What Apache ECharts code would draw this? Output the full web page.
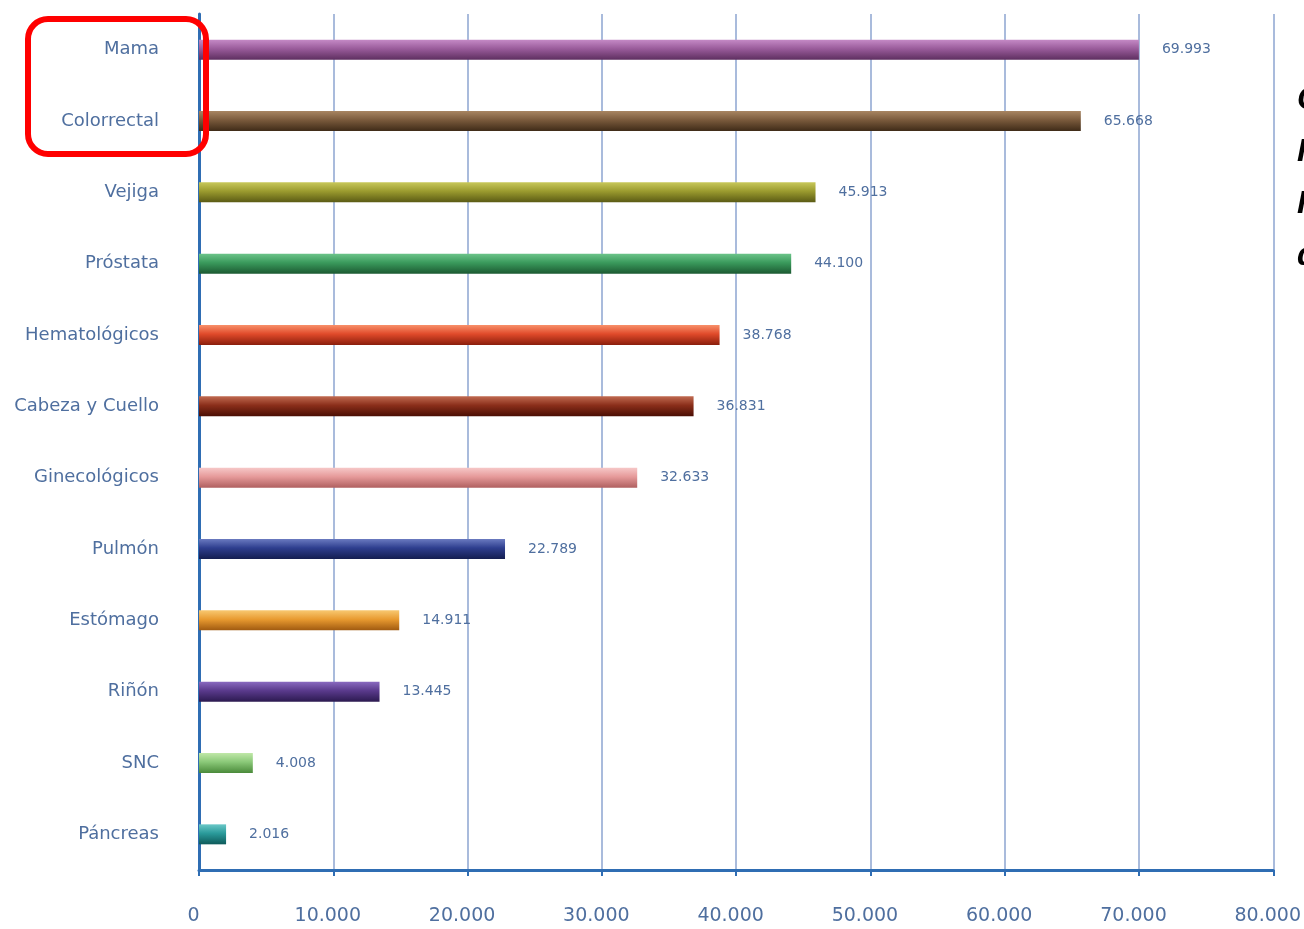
<!DOCTYPE html>
<html><head><meta charset="utf-8">
<script src="https://cdn.jsdelivr.net/npm/echarts@6/dist/echarts.min.js"></script>
<style>html,body{margin:0;padding:0;background:#fff}#c{width:1304px;height:929px}</style>
</head><body><div id="c"></div>
<script>
var categories = ['Mama','Colorrectal','Vejiga','Próstata','Hematológicos','Cabeza y Cuello','Ginecológicos','Pulmón','Estómago','Riñón','SNC','Páncreas'];
var values = [69993, 65668, 45913, 44100, 38768, 36831, 32633, 22789, 14911, 13445, 4008, 2016];
var barColors = [
  ['#c58ac6','#9a5c9b','#5e2f60'],
  ['#a88562','#7a5a3c','#3f2b18'],
  ['#c8c85a','#9a9a2e','#5a5a14'],
  ['#6cc48a','#3a9a5c','#1c5a32'],
  ['#f8906a','#e04a2a','#8a1e0c'],
  ['#c06a50','#8a2e1a','#4a0e04'],
  ['#f6c8c8','#e69a9a','#b06060'],
  ['#6a7ac0','#2e3e8e','#141e50'],
  ['#f8c870','#e89a30','#a05a10'],
  ['#8a6ac0','#5a3a8c','#2c1a50'],
  ['#c0e8a8','#8ac878','#4a8a3a'],
  ['#6ac8c8','#2a9a9a','#0e5a5a']
];
var xTicks = [0,10000,20000,30000,40000,50000,60000,70000,80000];
var sideText = ['Cáncer','Incidencia','Incidencia','de'];

function fmt(v){ return String(v).replace(/\B(?=(\d{3})+(?!\d))/g,'.'); }

var chart = echarts.init(document.getElementById('c'), null, {renderer:'canvas'});
var data = values.map(function(v,i){
  var c = barColors[i];
  return {value:v, itemStyle:{color:new echarts.graphic.LinearGradient(0,0,0,1,[
    {offset:0,color:c[0]},{offset:0.45,color:c[1]},{offset:1,color:c[2]}])}};
});
chart.setOption({
  animation:false,
  grid:{left:199,right:29,top:14,bottom:59,containLabel:false},
  xAxis:{type:'value',min:0,max:80000,interval:10000,
    axisLine:{show:true,onZero:false,lineStyle:{color:'#2f6db3',width:3}},
    axisTick:{show:true,length:6,lineStyle:{color:'#2f6db3',width:2}},
    splitLine:{show:true,lineStyle:{color:'#a9bbdc',width:2}},
    axisLabel:{margin:37,padding:[0,11,0,0],color:'#4f6f9f',fontSize:19,fontFamily:'DejaVu Sans',formatter:function(v){return fmt(v);}}
  },
  yAxis:{type:'category',data:categories,inverse:true,
    axisLine:{show:true,lineStyle:{color:'#2f6db3',width:3}},
    axisTick:{show:false},
    axisLabel:{margin:40,color:'#4f6f9f',fontSize:18,fontFamily:'DejaVu Sans'}
  },
  series:[{type:'bar',data:data,barWidth:20,
    label:{show:true,position:'right',distance:23,color:'#4f6f9f',fontSize:14,fontFamily:'DejaVu Sans',formatter:function(p){return fmt(p.value);}}
  }],
  graphic:[
    {type:'rect',shape:{x:28,y:19,width:178,height:135,r:20},style:{fill:'none',stroke:'#ff0000',lineWidth:6},z:100},
    {type:'text',left:1297,top:84,style:{text:sideText[0],font:'italic bold 32px "Liberation Sans"',fill:'#000'}},
    {type:'text',left:1297,top:136,style:{text:sideText[1],font:'italic bold 32px "Liberation Sans"',fill:'#000'}},
    {type:'text',left:1297,top:188,style:{text:sideText[2],font:'italic bold 32px "Liberation Sans"',fill:'#000'}},
    {type:'text',left:1297,top:240,style:{text:sideText[3],font:'italic bold 32px "Liberation Sans"',fill:'#000'}}
  ]
});
</script></body></html>
